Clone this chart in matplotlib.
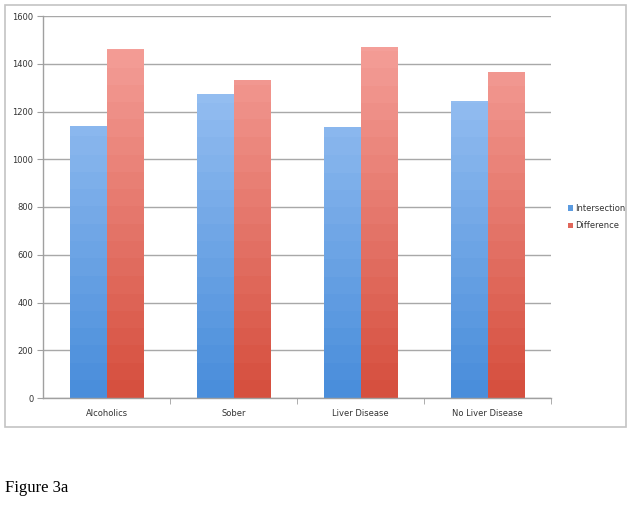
import matplotlib
matplotlib.use("Agg")
import matplotlib.pyplot as plt
import numpy as np
from matplotlib.patches import Rectangle
from matplotlib.colors import LinearSegmentedColormap

categories = ["Alcoholics", "Sober", "Liver Disease", "No Liver Disease"]
intersection = [1140, 1272, 1135, 1243]
difference = [1462, 1333, 1470, 1365]
series_names = ["Intersection", "Difference"]
yticks = [0, 200, 400, 600, 800, 1000, 1200, 1400, 1600]

W, H = 631, 514
fig = plt.figure(figsize=(W / 100, H / 100), dpi=100)
fig.patch.set_facecolor("white")

# outer frame
frame = Rectangle((5 / W, 1 - 427 / H), 621 / W, 422 / H, transform=fig.transFigure,
                  fill=False, edgecolor="#c4c4c4", linewidth=1.2)
fig.add_artist(frame)

ax = fig.add_axes([43 / W, 1 - 398 / H, 508 / W, 382 / H])
ax.set_xlim(0, 4)
ax.set_ylim(0, 1600)

blue_cmap = LinearSegmentedColormap.from_list("b", ["#4a8edb", "#a9cbf7"])
red_cmap = LinearSegmentedColormap.from_list("r", ["#d6503f", "#f8a7a2"])
nb = 22
grad = np.floor(np.linspace(0, 1, 400) * nb) / nb
grad = grad.reshape(-1, 1)

bw = 0.29
x = np.arange(len(categories)) + 0.5
for vals, cmap, off, name in [(intersection, blue_cmap, -bw, series_names[0]),
                              (difference, red_cmap, 0, series_names[1])]:
    bars = ax.bar(x + off, vals, width=bw, align="edge", color=cmap(0.5),
                  edgecolor="none", label=name, zorder=2)
    for b in bars:
        b.set_facecolor("none")
        im = ax.imshow(grad, cmap=cmap, vmin=0, vmax=1, origin="lower",
                       extent=[b.get_x(), b.get_x() + b.get_width(), 0, 1600],
                       aspect="auto", zorder=2, interpolation="nearest")
        im.set_clip_path(b)
ax.set_xlim(0, 4)
ax.set_ylim(0, 1600)

ax.set_yticks(yticks)
ax.set_yticklabels([str(t) for t in yticks])
ax.yaxis.grid(True, color="#a8a8a8", linewidth=1.0, zorder=0)
ax.set_axisbelow(True)

ax.set_xticks(x)
ax.set_xticklabels(categories)
ax.set_xticks([1, 2, 3, 4], minor=True)
ax.tick_params(axis="x", which="major", length=0, pad=8, labelsize=6, colors="#333333")
ax.tick_params(axis="x", which="minor", length=4, color="#a0a0a0", direction="out")
ax.tick_params(axis="y", length=4, color="#a0a0a0", labelsize=6, colors="#333333", pad=3)
for lab in ax.get_yticklabels() + ax.get_xticklabels():
    lab.set_color("#333333")

for s in ["top", "right"]:
    ax.spines[s].set_visible(False)
for s in ["left", "bottom"]:
    ax.spines[s].set_color("#a0a0a0")
    ax.spines[s].set_linewidth(1.0)

handles = [Rectangle((0, 0), 1, 1, facecolor="#5b9be0"),
           Rectangle((0, 0), 1, 1, facecolor="#e0665a")]
leg = fig.legend(handles, series_names, loc="center left",
                 bbox_to_anchor=(560 / W, 1 - 217 / H), frameon=False,
                 fontsize=6, handlelength=0.6, handleheight=0.6,
                 handletextpad=0.3, labelspacing=1.0)
for t in leg.get_texts():
    t.set_color("#333333")

fig.text(5 / W, 1 - 492 / H, "Figure 3a", fontsize=12, family="Liberation Serif",
         ha="left", va="baseline")

fig.savefig("out.png", dpi=100)
